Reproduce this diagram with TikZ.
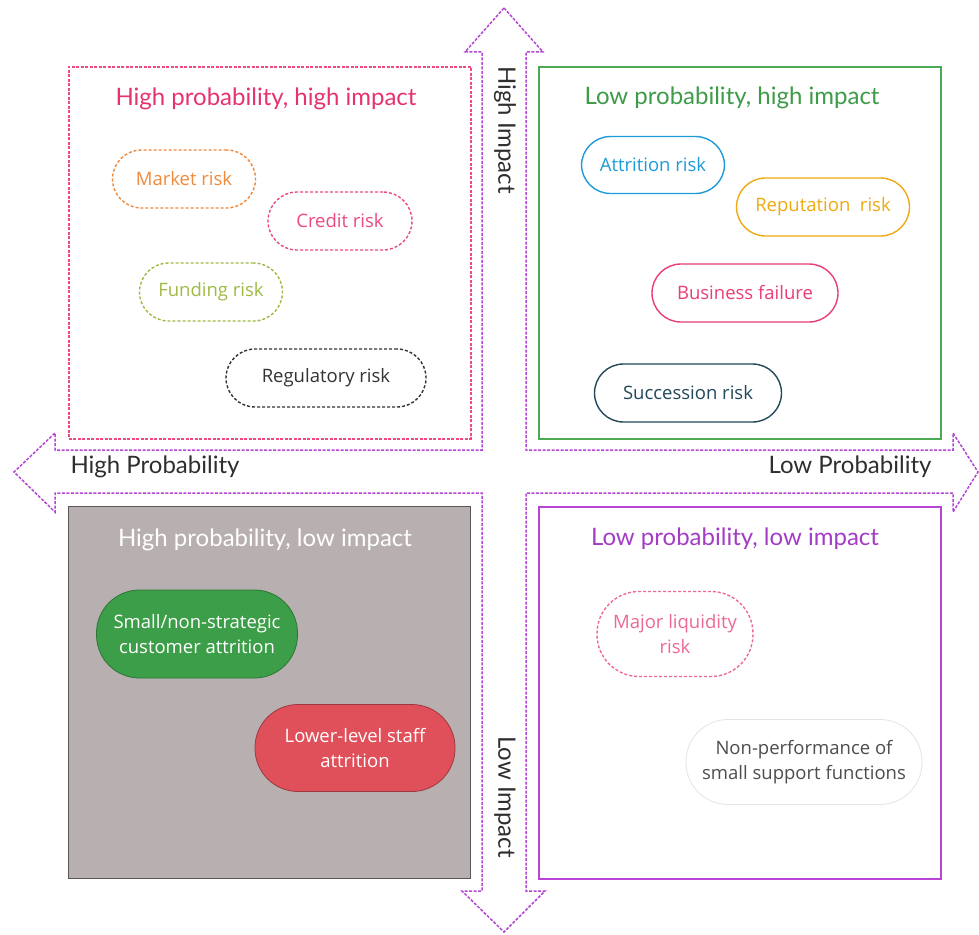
\documentclass[tikz,border=0pt]{standalone}
\usepackage{fontspec}
\setmainfont{Lato}
\newfontfamily\pillfont{Open Sans}
\usepackage{xcolor}
\usetikzlibrary{positioning}
\definecolor{axisFrame}{HTML}{B346D3}
\definecolor{axisText}{HTML}{2E2E2E}
\definecolor{hhFrame}{HTML}{EE4A7E}
\definecolor{hhTitle}{HTML}{E6336E}
\definecolor{lhFrame}{HTML}{4EAA52}
\definecolor{lhTitle}{HTML}{3E9B48}
\definecolor{hlFill}{HTML}{B8B0B0}
\definecolor{hlFrame}{HTML}{5B5757}
\definecolor{llFrame}{HTML}{B845D6}
\definecolor{llTitle}{HTML}{A43CC6}
\definecolor{marketCol}{HTML}{F08A3C}
\definecolor{creditCol}{HTML}{EC4A7E}
\definecolor{fundingCol}{HTML}{9DBB45}
\definecolor{regCol}{HTML}{333333}
\definecolor{attritionCol}{HTML}{1E9BD8}
\definecolor{reputationCol}{HTML}{EFAA10}
\definecolor{businessCol}{HTML}{EA3E74}
\definecolor{successionCol}{HTML}{21495A}
\definecolor{customerFill}{HTML}{3C9E48}
\definecolor{staffFill}{HTML}{E0505B}
\definecolor{liquidityCol}{HTML}{EC6A92}
\definecolor{supportCol}{HTML}{E4E4E4}

\tikzset{
    quadBox/.style={draw, line width=1.6pt, minimum width=402pt, minimum height=372pt,
        anchor=north west, inner sep=0pt},
    quadTitle/.style={font=\fontsize{24}{28}\selectfont},
    axisLabel/.style={font=\fontsize{24}{28}\selectfont, text=axisText},
    riskPill/.style={draw, line width=1.4pt, rounded corners=#1, align=center, inner sep=0pt,
        font=\pillfont\fontsize{18.5}{25}\selectfont},
    riskPill/.default=29pt,
    dashPill/.style={riskPill=#1, dash pattern=on 3pt off 2pt},
    dashPill/.default=29pt,
}

\begin{document}
\begin{tikzpicture}[x=1pt, y=-1pt]
    \useasboundingbox (0,0) rectangle (979,934);

    % four-way arrow
    \draw[axisFrame, line width=1.5pt, dash pattern=on 3pt off 1.5pt, line join=miter]
        (504,8) -- (543,52) -- (526,52) -- (526,450) -- (953,450) -- (953,433)
        -- (978,472) -- (953,512) -- (953,493) -- (526,493) -- (526,891) -- (545,891)
        -- (504,932) -- (462,891) -- (482,891) -- (482,493) -- (55,493) -- (55,512)
        -- (14,472) -- (55,433) -- (55,450) -- (482,450) -- (482,52) -- (465,52) -- cycle;

    \node[axisLabel, rotate=-90] (highImpact) at (505,130) {High Impact};
    \node[axisLabel, rotate=-90] (lowImpact) at (505,797) {Low Impact};
    \node[axisLabel] (highProb) at (155,467) {High Probability};
    \node[axisLabel] (lowProb) at (850,467) {Low Probability};

    % quadrants
    \node[quadBox, hhFrame, dash pattern=on 3pt off 1.5pt, fill=white] (hh) at (68,66) {};
    \node[quadBox, lhFrame, fill=white] (lh) at (538,66) {};
    \node[quadBox, hlFrame, fill=hlFill, line width=1.2pt] (hl) at (68,506) {};
    \node[quadBox, llFrame, fill=white] (ll) at (538,506) {};

    \node[quadTitle, text=hhTitle] (hhTitle) at (266,99) {High probability, high impact};
    \node[quadTitle, text=lhTitle] (lhTitle) at (732,98) {Low probability, high impact};
    \node[quadTitle, text=white] (hlTitle) at (265,540) {High probability, low impact};
    \node[quadTitle, text=llTitle] (llTitle) at (735,539) {Low probability, low impact};

    % high probability, high impact
    \node[dashPill, marketCol, text=marketCol, minimum width=143pt, minimum height=58pt]
        (market) at (184,179) {Market risk};
    \node[dashPill, creditCol, text=creditCol, minimum width=144pt, minimum height=58pt]
        (credit) at (340,221) {Credit risk};
    \node[dashPill, fundingCol, text=fundingCol, minimum width=143pt, minimum height=58pt]
        (funding) at (211,292) {Funding risk};
    \node[dashPill, regCol, text=regCol, minimum width=200pt, minimum height=58pt]
        (regulatory) at (326,378) {Regulatory risk};

    % low probability, high impact
    \node[riskPill, attritionCol, text=attritionCol, minimum width=143pt, minimum height=57pt]
        (attrition) at (653,165) {Attrition risk};
    \node[riskPill, reputationCol, text=reputationCol, minimum width=173pt, minimum height=58pt]
        (reputation) at (823,207) {Reputation\ \ risk};
    \node[riskPill, businessCol, text=businessCol, minimum width=186pt, minimum height=58pt]
        (business) at (745,293) {Business failure};
    \node[riskPill, successionCol, text=successionCol, minimum width=187pt, minimum height=58pt]
        (succession) at (688,393) {Succession risk};

    % high probability, low impact
    \node[riskPill=43pt, draw=customerFill!75!black, fill=customerFill, text=white,
        minimum width=201pt, minimum height=88pt, line width=0.8pt]
        (customer) at (197,634) {Small/non-strategic\\customer attrition};
    \node[riskPill=43pt, draw=staffFill!70!black, fill=staffFill, text=white,
        minimum width=200pt, minimum height=87pt, line width=0.8pt]
        (staff) at (355,748) {Lower-level staff\\attrition};

    % low probability, low impact
    \node[dashPill=42pt, liquidityCol, text=liquidityCol, minimum width=156pt, minimum height=85pt]
        (liquidity) at (675,634) {Major liquidity\\risk};
    \node[riskPill=42pt, supportCol, text=axisText!85, minimum width=236pt, minimum height=85pt,
        line width=0.8pt]
        (support) at (804,762) {Non-performance of\\small support functions};
\end{tikzpicture}
\end{document}
